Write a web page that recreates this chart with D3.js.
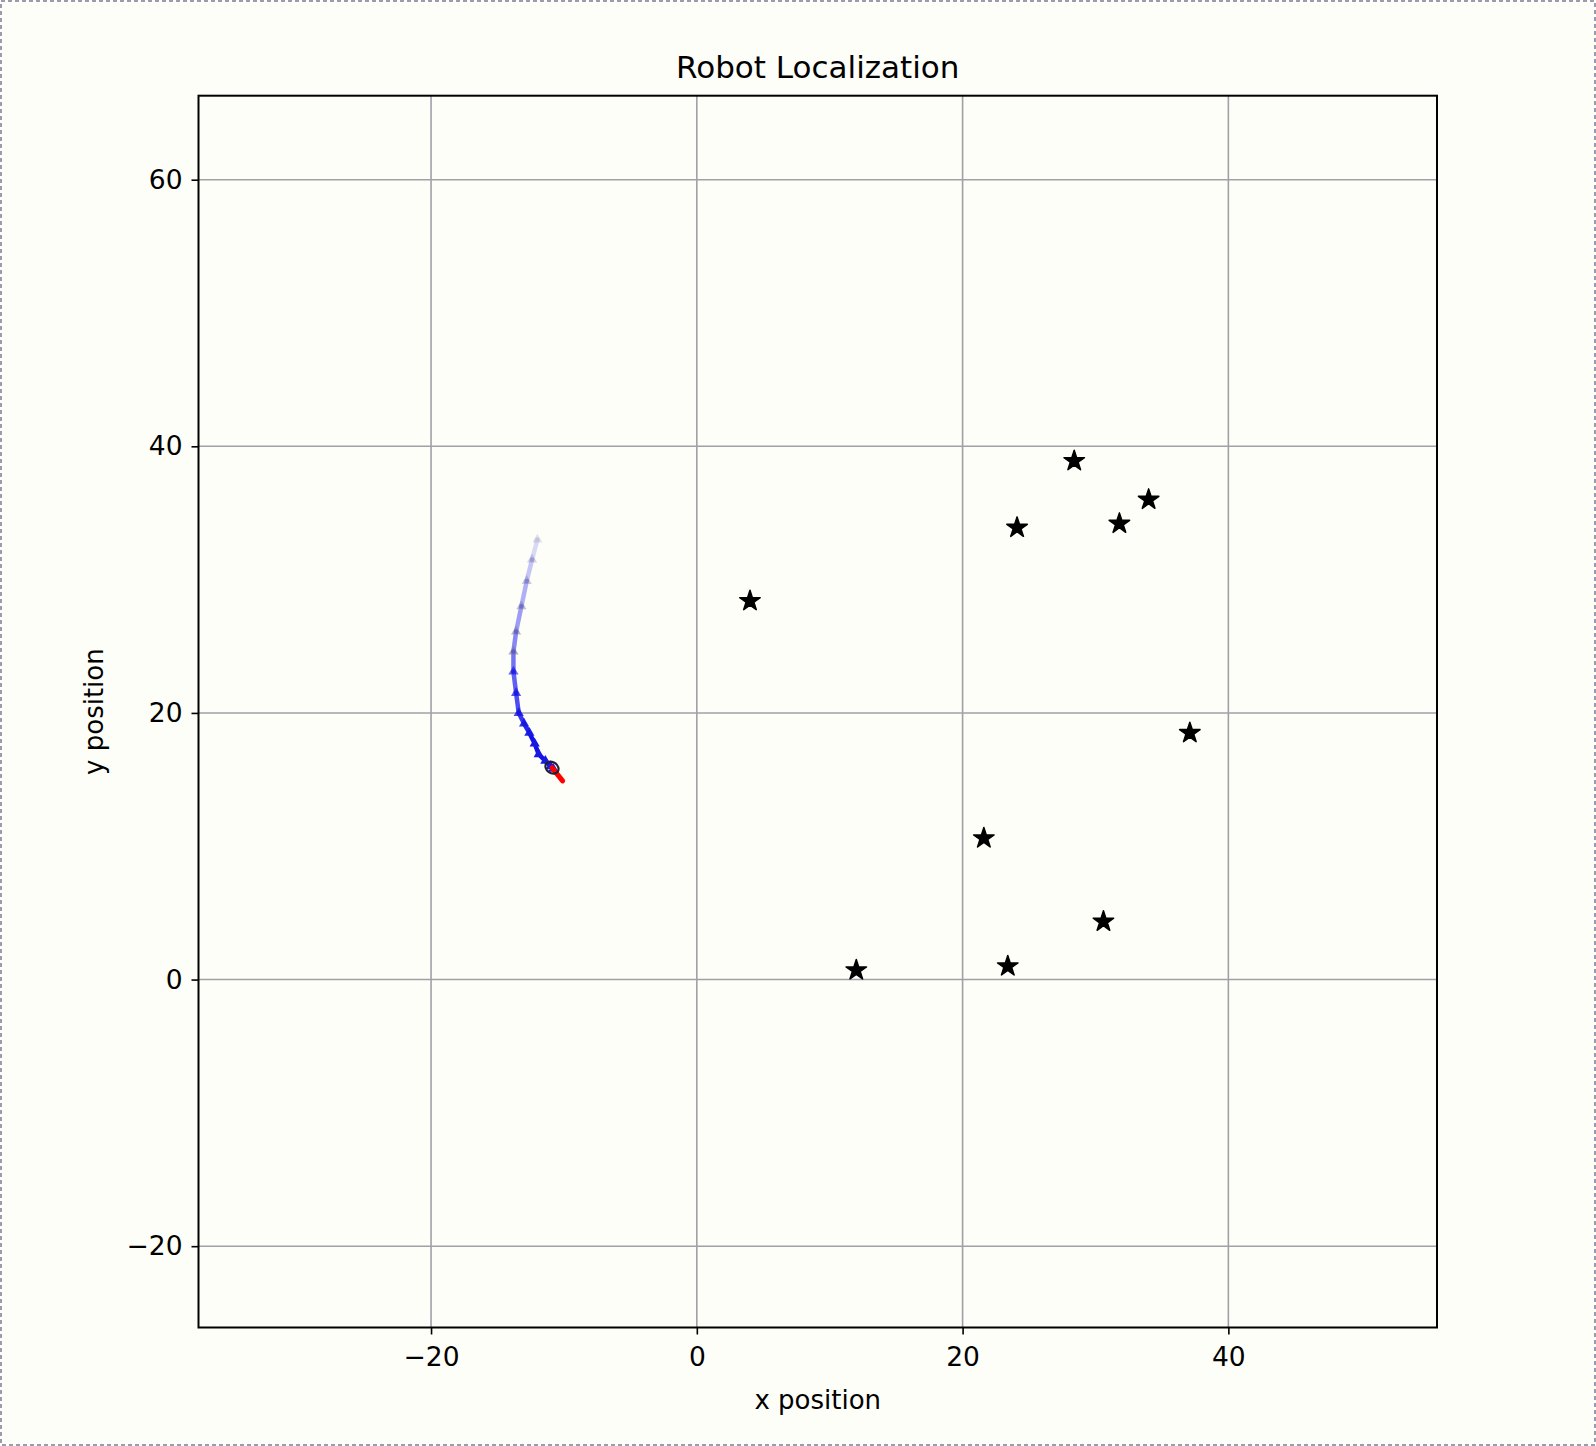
<!DOCTYPE html>
<html><head><meta charset="utf-8">
<script src="https://cdn.jsdelivr.net/npm/d3@7"></script>
<style>
body{margin:0;background:#fefef8;}
svg{display:block;font-family:"DejaVu Sans",sans-serif;}
</style></head><body>
<script>
// Data
var landmarksX = [4.0, 24.1, 28.4, 31.8, 34.0, 37.1, 21.6, 30.6, 23.4, 12.0];
var landmarksY = [28.4, 33.9, 38.9, 34.2, 36.0, 18.5, 10.6, 4.35, 1.0, 0.7];
var pathX = [-12.0, -12.4, -12.8, -13.2, -13.6, -13.8, -13.8, -13.6, -13.4, -13.0, -12.6, -12.2, -11.9, -11.4, -11.0, -10.8];
var pathY = [33.0, 31.5, 29.9, 28.0, 26.1, 24.6, 23.1, 21.5, 20.0, 19.2, 18.5, 17.7, 16.9, 16.4, 16.0, 15.8];
var robotPos = [-10.9, 15.9];
var robotHead = [-10.1, 14.9];
var xTicks = [-20, 0, 20, 40];
var yTicks = [-20, 0, 20, 40, 60];

var W = 1596, H = 1446;
var margin = {left: 198.5, right: W - 1437, top: 95.7, bottom: H - 1327.5};
var svg = d3.select("body").append("svg").attr("width", W).attr("height", H);
svg.append("rect").attr("x", 1).attr("y", 1).attr("width", W - 2).attr("height", H - 2)
  .attr("fill", "#fefef8").attr("stroke", "#9a9ab0").attr("stroke-dasharray", "4,3").attr("stroke-width", 2);

var x = d3.scaleLinear().domain([-37.5, 55.7]).range([margin.left, W - margin.right]);
var y = d3.scaleLinear().domain([-26.1, 66.3]).range([H - margin.bottom, margin.top]);

// grid
svg.append("g").selectAll("line").data(xTicks).enter().append("line")
  .attr("x1", d => x(d)).attr("x2", d => x(d)).attr("y1", y.range()[0]).attr("y2", y.range()[1])
  .attr("stroke", "#a0a0a8").attr("stroke-width", 1.6);
svg.append("g").selectAll("line").data(yTicks).enter().append("line")
  .attr("y1", d => y(d)).attr("y2", d => y(d)).attr("x1", x.range()[0]).attr("x2", x.range()[1])
  .attr("stroke", "#a0a0a8").attr("stroke-width", 1.6);

var xAxis = svg.append("g").attr("transform", "translate(0," + y.range()[0] + ")")
  .call(d3.axisBottom(x).tickValues(xTicks).tickSize(7).tickPadding(13).tickFormat(d => d < 0 ? "\u2212" + (-d) : d));
var yAxis = svg.append("g").attr("transform", "translate(" + x.range()[0] + ",0)")
  .call(d3.axisLeft(y).tickValues(yTicks).tickSize(7).tickPadding(9).tickFormat(d => d < 0 ? "\u2212" + (-d) : d));
[xAxis, yAxis].forEach(function(a){
  a.select(".domain").remove();
  a.selectAll("line").attr("stroke", "#000").attr("stroke-width", 1.6);
  a.selectAll("text").attr("font-size", 26.5).attr("fill", "#000").attr("font-family", "DejaVu Sans");
});

svg.append("rect").attr("x", x.range()[0]).attr("y", y.range()[1])
  .attr("width", x.range()[1] - x.range()[0]).attr("height", y.range()[0] - y.range()[1])
  .attr("fill", "none").attr("stroke", "#000").attr("stroke-width", 2);

// trajectory
var n = pathX.length;
for (var i = 0; i < n - 1; i++) {
  svg.append("line").attr("x1", x(pathX[i])).attr("y1", y(pathY[i]))
    .attr("x2", x(pathX[i + 1])).attr("y2", y(pathY[i + 1]))
    .attr("stroke", "#1010f0").attr("stroke-width", 4.5).attr("stroke-linecap", "round")
    .attr("opacity", 0.15 + 0.85 * Math.min(1, 1.4 * i / (n - 2)));
}
svg.append("g").selectAll("path").data(d3.range(n)).enter().append("path")
  .attr("d", d3.symbol(d3.symbolTriangle, 45))
  .attr("transform", i => "translate(" + x(pathX[i]) + "," + y(pathY[i]) + ")")
  .attr("fill", i => i < 6 ? "#7070a0" : "#1818e0").attr("opacity", i => 0.2 + 0.8 * Math.min(1, 1.4 * i / (n - 1)));
svg.append("line").attr("x1", x(robotPos[0])).attr("y1", y(robotPos[1]))
  .attr("x2", x(robotHead[0])).attr("y2", y(robotHead[1]))
  .attr("stroke", "#ff0000").attr("stroke-width", 5).attr("stroke-linecap", "round");
svg.append("ellipse").attr("cx", x(robotPos[0])).attr("cy", y(robotPos[1])).attr("rx", 7).attr("ry", 5.5)
  .attr("transform", "rotate(35," + x(robotPos[0]) + "," + y(robotPos[1]) + ")")
  .attr("fill", "none").attr("stroke", "#202030").attr("stroke-width", 2.2);

// landmarks
svg.append("g").selectAll("path").data(landmarksX).enter().append("path")
  .attr("d", d3.symbol(d3.symbolStar, 130))
  .attr("transform", (d, i) => "translate(" + x(d) + "," + y(landmarksY[i]) + ")")
  .attr("fill", "#000").attr("stroke", "#000").attr("stroke-width", 1.5).attr("stroke-linejoin", "round");

svg.append("text").attr("x", (x.range()[0] + x.range()[1]) / 2).attr("y", 78)
  .attr("text-anchor", "middle").attr("font-size", 31).text("Robot Localization");
svg.append("text").attr("x", (x.range()[0] + x.range()[1]) / 2).attr("y", 1409)
  .attr("text-anchor", "middle").attr("font-size", 26).text("x position");
svg.append("text").attr("transform", "translate(103," + (y.range()[0] + y.range()[1]) / 2 + ") rotate(-90)")
  .attr("text-anchor", "middle").attr("font-size", 26).text("y position");
</script>
</body></html>
